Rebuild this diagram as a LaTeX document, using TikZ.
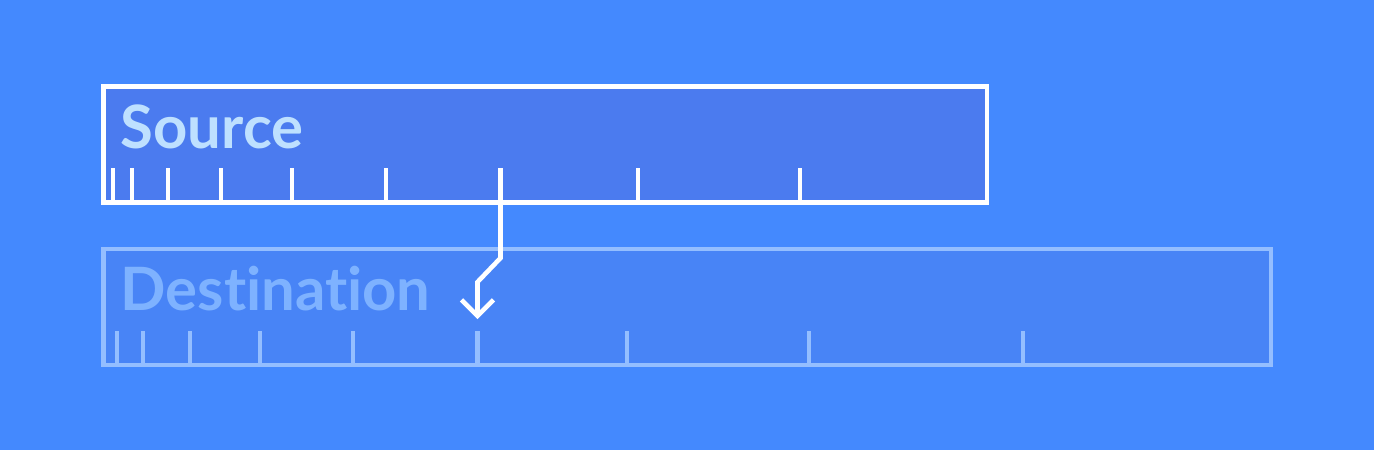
\documentclass[tikz,border=0pt]{standalone}
\usepackage{fontspec}
\setsansfont{Lato}[Ligatures=NoCommon]
\usetikzlibrary{positioning, arrows.meta}
\definecolor{bgblue}{HTML}{4489FE}
\definecolor{srcfill}{HTML}{4B7BEF}
\definecolor{dstfill}{HTML}{4884F6}
\definecolor{dstline}{HTML}{94BEFF}
\definecolor{srctext}{HTML}{BEE0FF}
\definecolor{dsttext}{HTML}{7EB2FF}

\begin{document}
\begin{tikzpicture}[x=0.01cm, y=-0.01cm,
            box/.style={rectangle, anchor=north west, line width=1.3pt, minimum height=1.16cm},
            srcbox/.style={box, fill=srcfill, draw=white, minimum width=8.83cm},
            dstbox/.style={box, fill=dstfill, draw=dstline, minimum width=11.67cm},
            title/.style={anchor=base west, inner sep=0pt, font=\fontsize{17}{20}\selectfont\sffamily\bfseries},
            srctick/.style={line width=1.3pt, white},
            dsttick/.style={line width=1.3pt, dstline},
            move/.style={line width=1.3pt, white, -{Straight Barb[length=1.6mm, width=3.2mm]}}
        ]
            \useasboundingbox (0,0) rectangle (1374,450);
            \fill[bgblue] (0,0) rectangle (1374,450);

            \node[srcbox] (src) at (101,84) {};
            \node[dstbox] (dst) at (101,246.5) {};
            \node[title, srctext] (srcname) at (120,148) {Source};
            \node[title, dsttext] (dstname) at (120,310) {Destination};

            \draw[srctick] (113,168) -- (113,200) (132,168) -- (132,200) (168,168) -- (168,200)
                (221,168) -- (221,200) (292,168) -- (292,200) (386,168) -- (386,200)
                (500.5,168) -- (500.5,200) (638,168) -- (638,200) (800,168) -- (800,200);
            \draw[dsttick] (117,331) -- (117,363) (143,331) -- (143,363) (190,331) -- (190,363)
                (260,331) -- (260,363) (353,331) -- (353,363) (477.5,331) -- (477.5,363)
                (627,331) -- (627,363) (809,331) -- (809,363) (1023,331) -- (1023,363);

            \coordinate (pick) at (500.5,200);
            \coordinate (drop) at (477.5,319);
            \draw[move] (pick) -- (pick |- 0,258) -- (drop |- 0,282) -- (drop);
        \end{tikzpicture}
\end{document}
